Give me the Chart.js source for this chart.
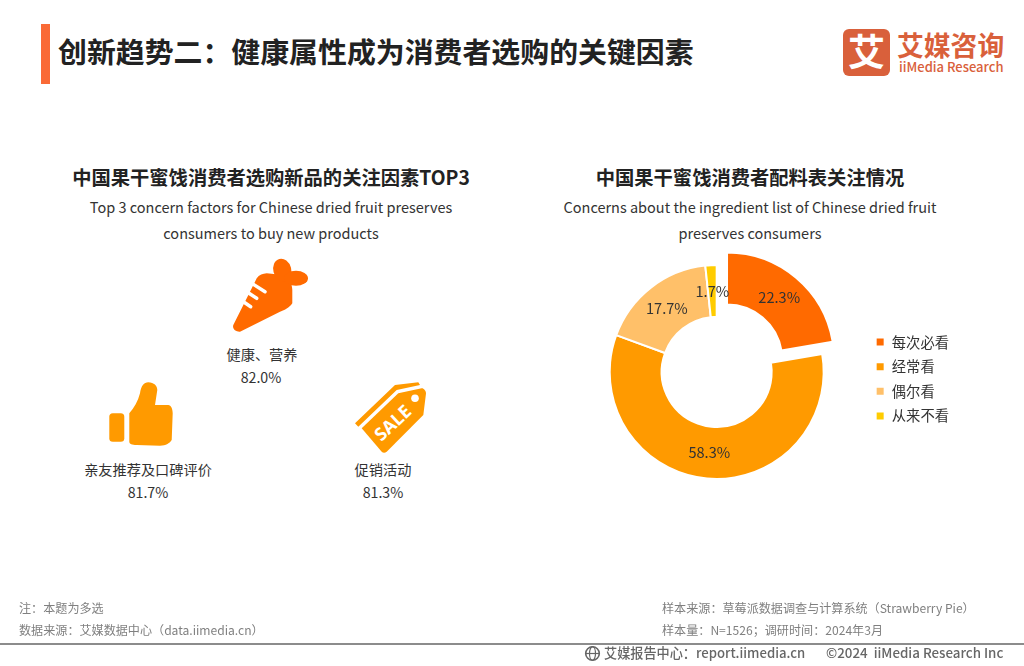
<!DOCTYPE html>
<html lang="zh">
<head>
<meta charset="utf-8">
<title>创新趋势二</title>
<script src="https://cdn.jsdelivr.net/npm/chart.js@4/dist/chart.umd.min.js"></script>
<style>
html, body { margin: 0; padding: 0; background: #fff; }
body { position: relative; width: 1024px; height: 666px; overflow: hidden; font-family: "Noto Sans CJK SC", "Noto Sans", sans-serif; color: #333; }
#myChart { position: absolute; left: 0; top: 0; }
.t { position: absolute; white-space: nowrap; line-height: 1; }
.c { transform: translateX(-50%); text-align: center; }
.bar { position: absolute; left: 41px; top: 24px; width: 9px; height: 60px; background: #fa6a36; }
.rule { position: absolute; left: 0; top: 643px; width: 1024px; height: 2px; background: #8c8c8c; }
.icon { position: absolute; }
.note { font-size: 12.1px; color: #808080; }
</style>
</head>
<body>
<div class="bar"></div>
<div class="t" style="left:58px;top:36px;font-size:28.9px;font-weight:700;color:#222">创新趋势二：健康属性成为消费者选购的关键因素</div>

<!-- logo -->
<svg class="icon" style="left:843px;top:29px" width="47" height="47">
  <rect width="47" height="47" rx="6" fill="#d9603b"/>
  <text x="23.5" y="37" font-size="37" font-weight="700" fill="#fff" text-anchor="middle" font-family="Noto Sans CJK SC">艾</text>
</svg>
<div class="t" style="left:897px;top:32px;font-size:26.8px;font-weight:700;color:#d9603b">艾媒咨询</div>
<div class="t" style="left:899px;top:60px;font-size:13px;font-weight:500;color:#d9603b">iiMedia Research</div>

<!-- left panel -->
<div class="t c" style="left:271px;top:168px;font-size:19.3px;font-weight:700;color:#222">中国果干蜜饯消费者选购新品的关注因素TOP3</div>
<div class="t c" style="left:271px;top:200px;font-size:14.5px">Top 3 concern factors for Chinese dried fruit preserves</div>
<div class="t c" style="left:271px;top:226px;font-size:14.5px">consumers to buy new products</div>

<svg class="icon" style="left:230px;top:254px" width="80" height="80" viewBox="0 0 80 80">
  <path d="M3.3 71 L26.7 24.3 C29 21 33 19.5 36.7 19.3 L53.3 21 C59 24 62.3 30 62.3 36 L62.3 49.3 C59 54 55 56 50 57.7 L10 77.7 C6 78 2 75 3.3 71Z" fill="#ff6a00"/>
  <ellipse cx="52.3" cy="16" rx="9" ry="11.5" fill="#ff6a00" transform="rotate(-15 52.3 16)"/>
  <ellipse cx="66" cy="24.3" rx="12" ry="7.5" fill="#ff6a00"/>
  <g stroke="#fff" stroke-width="3.5" stroke-linecap="round">
    <line x1="21.7" y1="29.3" x2="35" y2="37.7"/>
    <line x1="16.7" y1="37.7" x2="26.7" y2="44.3"/>
    <line x1="12.3" y1="47" x2="20.7" y2="52.7"/>
  </g>
</svg>
<div class="t c" style="left:262px;top:347px;font-size:14.2px">健康、营养</div>
<div class="t c" style="left:261px;top:370px;font-size:14.2px">82.0%</div>

<svg class="icon" style="left:106px;top:380px" width="70" height="68" viewBox="0 0 70 68">
  <rect x="3.3" y="33.3" width="15" height="28.4" rx="3.5" fill="#ff9a00"/>
  <path d="M23.3 33.3 C28 28 32 21 34 13.3 C35 6 38 2.3 42.3 2.3 C48 2.3 51.3 6 51.3 10 L49 25 L62.3 25 C65 25 66.7 29 66.7 33.3 L65.7 60 C64 63 60 65.7 54 65.7 L30.7 65 C26 65 23.3 64 23.3 61.7Z" fill="#ff9a00"/>
</svg>
<div class="t c" style="left:148px;top:462px;font-size:14.2px">亲友推荐及口碑评价</div>
<div class="t c" style="left:148px;top:485px;font-size:14.2px">81.7%</div>

<svg class="icon" style="left:352px;top:378px" width="78" height="80" viewBox="0 0 78 80">
  <path d="M3 45.3 L43 7 L66.3 4.3 L68 7 L44.7 12 L6.3 48.7Z" fill="#ff9a00"/>
  <path d="M9.7 50.3 L46.3 15.3 L69.7 10.3 C72 10.3 74 13 74 15.3 L71.3 37 L34.7 73.7 C33 75 31 75 29.7 73.7Z" fill="#ff9a00"/>
  <circle cx="63" cy="20.3" r="3.8" fill="#fff"/>
  <text x="41" y="51" font-size="18" font-weight="700" fill="#fff" text-anchor="middle" transform="rotate(-43 41 45)" font-family="Noto Sans">SALE</text>
</svg>
<div class="t c" style="left:383px;top:462px;font-size:14.2px">促销活动</div>
<div class="t c" style="left:383px;top:485px;font-size:14.2px">81.3%</div>

<!-- right panel -->
<div class="t c" style="left:750px;top:168px;font-size:19.3px;font-weight:700;color:#222">中国果干蜜饯消费者配料表关注情况</div>
<div class="t c" style="left:750px;top:200px;font-size:14.5px">Concerns about the ingredient list of Chinese dried fruit</div>
<div class="t c" style="left:750px;top:226px;font-size:14.5px">preserves consumers</div>

<canvas id="myChart" width="1024" height="666"></canvas>

<!-- footer -->
<div class="t note" style="left:19px;top:602px">注：本题为多选</div>
<div class="t note" style="left:19px;top:624px">数据来源：艾媒数据中心（data.iimedia.cn）</div>
<div class="t note" style="left:662px;top:602px">样本来源：草莓派数据调查与计算系统（Strawberry Pie）</div>
<div class="t note" style="left:662px;top:624px">样本量：N=1526；调研时间：2024年3月</div>
<div class="rule"></div>
<svg class="icon" style="left:584px;top:645px" width="17" height="17" viewBox="0 0 17 17">
  <circle cx="8.5" cy="8.5" r="6.8" fill="none" stroke="#666" stroke-width="1.6"/>
  <ellipse cx="8.5" cy="8.5" rx="3" ry="6.8" fill="none" stroke="#666" stroke-width="1.2"/>
  <line x1="2" y1="8.5" x2="15" y2="8.5" stroke="#666" stroke-width="1.2"/>
</svg>
<div class="t" style="left:604px;top:646px;font-size:13.15px;font-weight:500;color:#666">艾媒报告中心：report.iimedia.cn</div>
<div class="t" style="left:826px;top:646px;font-size:13.35px;font-weight:500;color:#666">©2024&nbsp;&nbsp;iiMedia Research Inc</div>

<script>
const labels = ['每次必看', '经常看', '偶尔看', '从来不看'];
const values = [22.3, 58.3, 17.7, 1.7];
const colors = ['#ff6a00', '#ff9a00', '#ffc069', '#ffcc00'];
// Chart.js moves an arc by offset / 4, so 64 gives the 16px pull-out
const offsets = [64, 0, 0, 0];

// percent labels in the middle of each ring segment
const sliceLabels = {
    id: 'sliceLabels',
    afterDatasetsDraw(chart) {
        const ctx = chart.ctx;
        const meta = chart.getDatasetMeta(0);
        ctx.save();
        ctx.font = '14.6px "Noto Sans CJK SC"';
        ctx.fillStyle = '#333';
        ctx.textAlign = 'center';
        ctx.textBaseline = 'middle';
        meta.data.forEach((arc, i) => {
            const mid = (arc.startAngle + arc.endAngle) / 2;
            const r = (arc.innerRadius + arc.outerRadius) / 2 + offsets[i] / 4;
            ctx.fillText(values[i].toFixed(1) + '%', arc.x + Math.cos(mid) * r, arc.y + Math.sin(mid) * r);
        });
        ctx.restore();
    }
};

new Chart(document.getElementById('myChart').getContext('2d'), {
    type: 'doughnut',
    data: {
        labels: labels,
        datasets: [{
            data: values,
            backgroundColor: colors,
            borderColor: '#fff',
            borderWidth: 2,
            offset: offsets
        }]
    },
    options: {
        responsive: false,
        animation: false,
        cutout: '51.4%',
        layout: { padding: { left: 568, right: 65, top: 232, bottom: 154 } },
        plugins: {
            tooltip: { enabled: false },
            legend: {
                position: 'right',
                // empty title only pushes the legend rows down 7px below the ring centre
                title: { display: true, text: ' ', font: { size: 14, lineHeight: 1 }, padding: 0 },
                labels: {
                    boxWidth: 9,
                    boxHeight: 9,
                    padding: 10.3,
                    color: '#333',
                    font: { family: '"Noto Sans CJK SC"', size: 14.3 }
                }
            }
        }
    },
    plugins: [sliceLabels]
});
</script>
</body>
</html>
